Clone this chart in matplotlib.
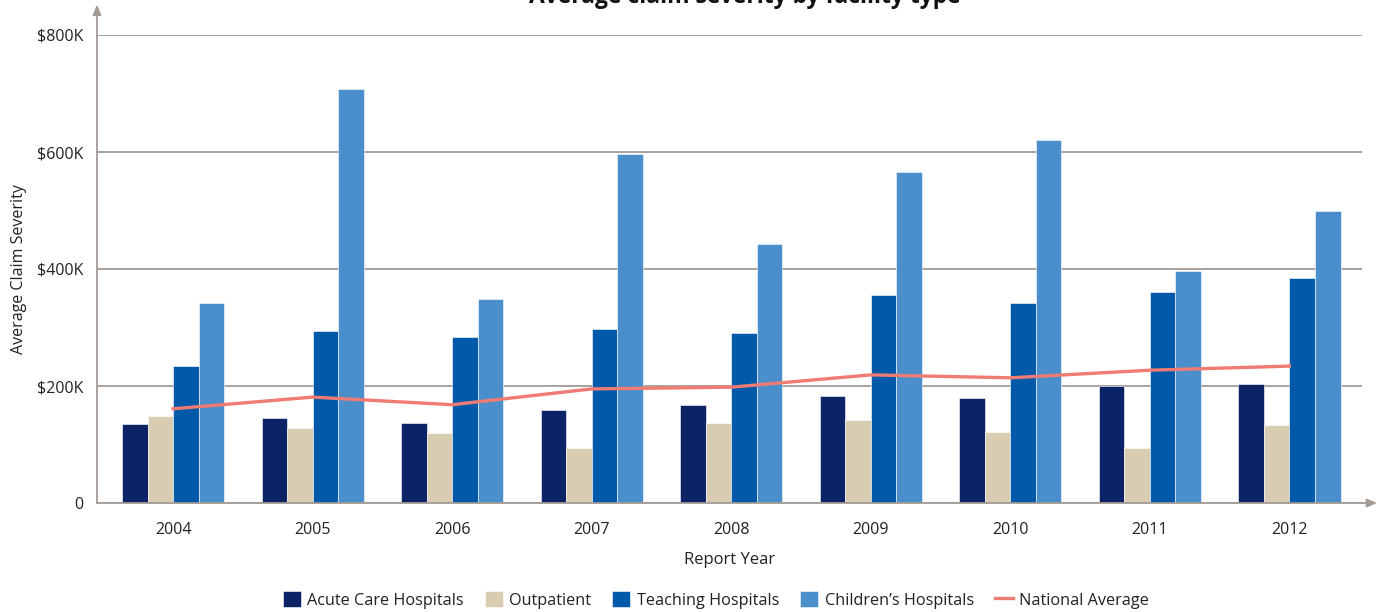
import numpy as np
import matplotlib.pyplot as plt

plt.rcParams['font.family'] = ['Open Sans', 'DejaVu Sans']

# values in $K
years = ['2004', '2005', '2006', '2007', '2008', '2009', '2010', '2011', '2012']
acute = [135, 145, 137, 159, 168, 183, 179, 200, 204]
outpatient = [149, 128, 120, 94, 137, 142, 121, 94, 134]
teaching = [234, 294, 284, 297, 291, 356, 342, 361, 385]
childrens = [342, 708, 349, 597, 443, 566, 621, 397, 500]
national = [161, 181, 168, 195, 198, 219, 214, 227, 234]

series = [('Acute Care Hospitals', acute, '#0c2466'),
          ('Outpatient', outpatient, '#d8cdb2'),
          ('Teaching Hospitals', teaching, '#005aa9'),
          ("Children\u2019s Hospitals", childrens, '#4a8ecb')]

axcol = '#a39a93'
txtcol = '#222222'

fig = plt.figure(figsize=(13.83, 6.12), dpi=100)
ax = fig.add_axes([97/1383, 1 - 503/612, (1362 - 97)/1383, (503 - 35)/612])

x = np.arange(len(years))
w = 0.183
handles = []
for i, (name, vals, col) in enumerate(series):
    b = ax.bar(x + (i - 1.5) * w, np.array(vals) * 1000, w, color=col, label=name,
               edgecolor='#ffffff', linewidth=0.4, zorder=3)
    handles.append(b)

ln, = ax.plot(x, np.array(national) * 1000, color='#f07b72', lw=2.4,
              label='National Average', zorder=4)
handles.append(ln)

ax.set_xlim(-0.545, 8.52)
ax.set_ylim(0, 800000)
ax.set_xticks(x)
ax.set_xticklabels(years)
ax.set_yticks([0, 200000, 400000, 600000, 800000])
ax.set_yticklabels(['0', '$200K', '$400K', '$600K', '$800K'])
ax.tick_params(length=0, labelsize=11.5, colors=txtcol, pad=10)
ax.tick_params(axis='x', pad=14)
ax.grid(axis='y', color=axcol, lw=1.3, zorder=1)
for s in ax.spines.values():
    s.set_visible(False)

# axis lines with arrow heads
ax.annotate('', xy=(1.012, 0), xytext=(0, 0), xycoords='axes fraction',
            arrowprops=dict(arrowstyle='-|>,head_length=0.6,head_width=0.25',
                            color=axcol, lw=1.3, shrinkA=0, shrinkB=0),
            annotation_clip=False, zorder=5)
ax.annotate('', xy=(0, 1.065), xytext=(0, 0), xycoords='axes fraction',
            arrowprops=dict(arrowstyle='-|>,head_length=0.6,head_width=0.25',
                            color=axcol, lw=1.3, shrinkA=0, shrinkB=0),
            annotation_clip=False, zorder=5)

ax.set_xlabel('Report Year', fontsize=12, color=txtcol, labelpad=10)
ax.set_ylabel('Average Claim Severity', fontsize=11.5, color=txtcol, labelpad=7)

# title sits partly above the top edge, as in the source image
fig.text(745/1383, 1 - 3/612, 'Average claim severity by facility type',
         ha='center', va='baseline', fontsize=16.5, fontweight='bold', color='#111111')

leg = fig.legend(handles=handles, loc='center', bbox_to_anchor=(716/1383, 1 - 600/612),
                 ncol=5, frameon=False, fontsize=11.7, handlelength=1.1, handleheight=1.1,
                 columnspacing=1.3, handletextpad=0.4)
for t in leg.get_texts():
    t.set_color(txtcol)

fig.savefig('out.png', dpi=100)
